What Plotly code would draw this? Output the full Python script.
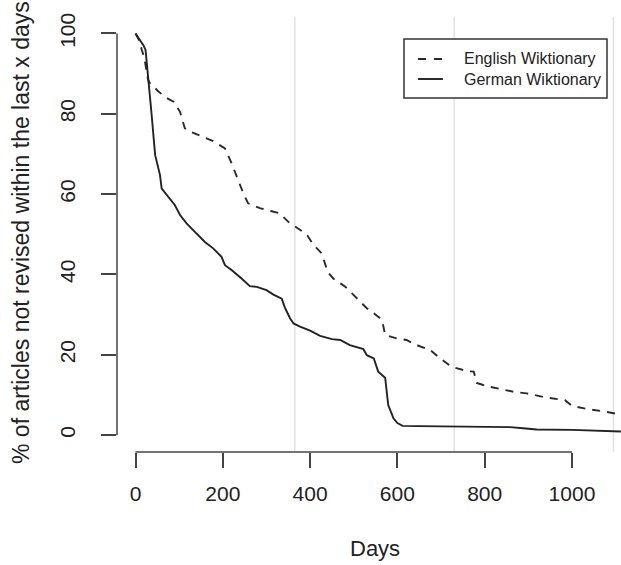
import plotly.graph_objects as go

# Survival of articles without revision (days since last edit)
english_days = [0, 10, 14, 20, 29, 33, 40, 50, 70, 87, 102, 113, 120, 136, 160, 178, 205,
                220, 235, 247, 258, 285, 310, 331, 350, 365, 377, 392, 407, 426, 441, 453,
                480, 510, 530, 556, 565, 572, 598, 621, 640, 675, 698, 724, 762, 775, 782,
                805, 835, 866, 896, 934, 984, 1000, 1040, 1079, 1112]
english_pct = [100, 98, 96, 94, 88.4, 87.6, 87, 85.8, 84, 83, 80.5, 76.4, 75.8, 75, 74,
               73.2, 71.4, 67.7, 63.5, 60.2, 57.7, 56.5, 55.8, 55.2, 53.1, 52, 51, 50,
               47.5, 45.3, 40.5, 39, 37, 33.6, 31.6, 29.5, 28.6, 24.9, 24.1, 23.7, 22.6,
               21.2, 19.1, 17, 15.9, 15.8, 13, 12.2, 11.6, 10.8, 10.4, 9.5, 8.7, 7.3, 6.4,
               5.8, 5.1]

german_days = [0, 10, 18, 23, 29, 37, 45, 48, 56, 60, 72, 90, 102, 117, 136, 159, 178,
               197, 205, 220, 243, 262, 278, 300, 316, 335, 342, 354, 362, 377, 400, 423,
               450, 469, 491, 514, 522, 530, 546, 556, 560, 572, 579, 587, 591, 600, 612,
               650, 700, 750, 800, 858, 888, 919, 1000, 1041, 1112]
german_pct = [100, 98.4, 97.1, 95.9, 89.7, 79.7, 69.7, 68.5, 64.8, 61.4, 59.8, 57.3,
              54.8, 52.7, 50.6, 48.1, 46.5, 44.4, 42.3, 41.1, 39, 37.1, 36.9, 36.1, 35,
              34, 31.8, 29.1, 27.8, 27, 26, 24.7, 23.9, 23.7, 22.4, 21.6, 21.4, 19.9,
              19.1, 15.8, 15.4, 14.3, 7.5, 5, 4.2, 3, 2.3, 2.25, 2.2, 2.2, 2.1, 2.0, 1.7,
              1.4, 1.3, 1.2, 0.9]

year_marks = [365, 730, 1095]
x_ticks = [0, 200, 400, 600, 800, 1000]
y_ticks = [0, 20, 40, 60, 80, 100]

series_names = ["English Wiktionary", "German Wiktionary"]

FONT = "Liberation Sans, Arial, Helvetica, sans-serif"
INK = "#222222"
AXIS = "#444444"

W, H = 621, 565
L, R, T, B = 117, 0, 17, 113
PW, PH = W - L - R, H - T - B


def px(xp):
    """Horizontal pixel -> paper coordinate."""
    return (xp - L) / PW


def py(yp):
    """Vertical pixel -> paper coordinate."""
    return (H - B - yp) / PH


fig = go.Figure()

fig.add_trace(go.Scatter(
    x=english_days, y=english_pct, mode="lines", name=series_names[0],
    line=dict(color="#2a2a2a", width=1.9, dash="8px,7px"), showlegend=False,
))
fig.add_trace(go.Scatter(
    x=german_days, y=german_pct, mode="lines", name=series_names[1],
    line=dict(color=INK, width=1.9), showlegend=False,
))

shapes = []
# one-year markers
for d in year_marks:
    shapes.append(dict(type="line", xref="x", yref="paper", x0=d, x1=d, y0=0, y1=1,
                       line=dict(color="#e2e2e2", width=1.5), layer="below"))
# axis lines spanning the tick range only
shapes.append(dict(type="line", xref="x", yref="paper", x0=x_ticks[0], x1=x_ticks[-1],
                   y0=0, y1=0, line=dict(color=AXIS, width=1.5)))
shapes.append(dict(type="line", xref="paper", yref="y", x0=0, x1=0,
                   y0=y_ticks[0], y1=y_ticks[-1], line=dict(color=AXIS, width=1.5)))

# legend box
shapes.append(dict(type="rect", xref="paper", yref="paper",
                   x0=px(404), x1=px(607), y0=py(98), y1=py(39),
                   line=dict(color="#333333", width=1.5), fillcolor="white"))
legend_rows = [59, 79]
shapes.append(dict(type="line", xref="paper", yref="paper", x0=px(418), x1=px(443),
                   y0=py(legend_rows[0]), y1=py(legend_rows[0]),
                   line=dict(color="#2a2a2a", width=1.9, dash="8px,8px")))
shapes.append(dict(type="line", xref="paper", yref="paper", x0=px(418), x1=px(443),
                   y0=py(legend_rows[1]), y1=py(legend_rows[1]),
                   line=dict(color=INK, width=1.9)))

annotations = []
for name, row in zip(series_names, legend_rows):
    annotations.append(dict(text=name, xref="paper", yref="paper", x=px(461.5), y=py(row),
                            xanchor="left", yanchor="middle", showarrow=False,
                            font=dict(family=FONT, size=16, color=INK)))

annotations.append(dict(text="Days", xref="paper", yref="paper", x=px(374.5), y=py(548),
                        xanchor="center", yanchor="middle", showarrow=False,
                        font=dict(family=FONT, size=22, color=INK)))
annotations.append(dict(text="% of articles not revised within the last x days",
                        xref="paper", yref="paper", x=px(21), y=py(233),
                        xanchor="center", yanchor="middle", textangle=-90,
                        showarrow=False, font=dict(family=FONT, size=23, color=INK)))

fig.update_layout(
    width=W, height=H,
    margin=dict(l=L, r=R, t=T, b=B, pad=0),
    paper_bgcolor="white", plot_bgcolor="white",
    showlegend=False,
    shapes=shapes, annotations=annotations,
    xaxis=dict(range=[-42.4, 1112.3], tickvals=x_ticks, ticktext=[str(v) for v in x_ticks],
               ticks="outside", ticklen=15, tickwidth=1.5, tickcolor=AXIS,
               showgrid=False, zeroline=False, showline=False,
               tickfont=dict(family=FONT, size=21, color=INK), ticklabelstandoff=8),
    yaxis=dict(range=[-4.2, 104.1], tickvals=y_ticks, ticktext=[str(v) for v in y_ticks],
               ticks="outside", ticklen=15, tickwidth=1.5, tickcolor=AXIS, tickangle=-90,
               showgrid=False, zeroline=False, showline=False,
               tickfont=dict(family=FONT, size=21, color=INK), ticklabelstandoff=18),
)

fig.write_html("out.html")
